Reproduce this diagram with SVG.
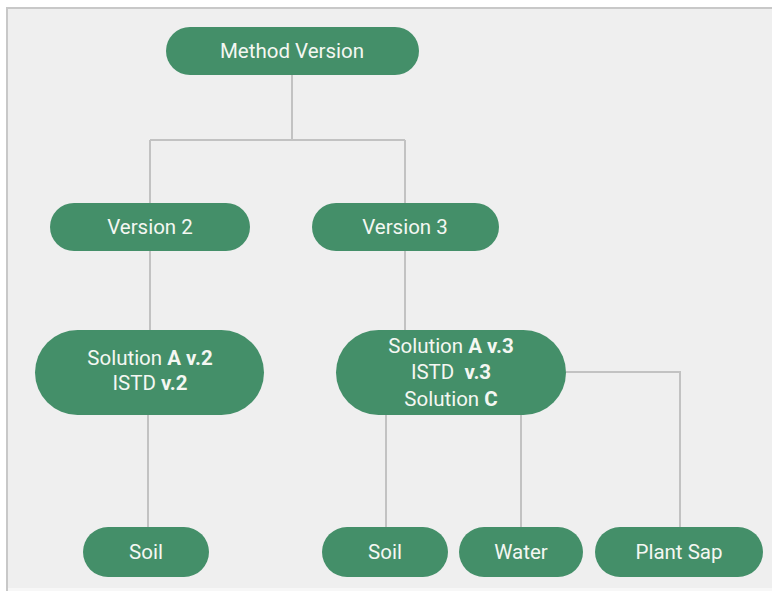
<svg xmlns="http://www.w3.org/2000/svg" width="772" height="591" viewBox="0 0 772 591">
<style>
.n{fill:#448f69}
.t{font-family:Roboto,"Liberation Sans",sans-serif;font-size:20.5px;font-weight:400;fill:#f4f7f2;text-anchor:middle}
.b{font-weight:bold}
.c{stroke:#c2c2c2;stroke-width:2;fill:none}
</style>
<rect x="0" y="0" width="772" height="591" fill="#ffffff"/>
<rect x="7" y="8" width="775" height="600" fill="#efefef" stroke="#c8c8c8" stroke-width="2"/>
<rect x="8" y="588" width="764" height="3" fill="#f7f7f7"/>
<g id="connectors">
<path class="c" d="M292 75V140M150 140H405M150 140V203M405 140V203"/>
<path class="c" d="M150 251V330M148 415V527"/>
<path class="c" d="M405 251V330M386 415V527M521 415V527M566 372H680V527"/>
</g>
<g id="method-version"><rect class="n" x="166" y="27" width="253" height="48" rx="24"/><text class="t" x="292" y="58">Method Version</text></g>
<g id="version-2"><rect class="n" x="50" y="203" width="200" height="48" rx="24"/><text class="t" x="150" y="234">Version 2</text></g>
<g id="version-3"><rect class="n" x="312" y="203" width="187" height="48" rx="24"/><text class="t" x="405" y="234">Version 3</text></g>
<g id="solution-v2"><rect class="n" x="35" y="330" width="229" height="85" rx="42.5"/><text class="t" x="150" y="365">Solution <tspan class="b">A v.2</tspan></text><text class="t" x="150" y="390">ISTD <tspan class="b">v.2</tspan></text></g>
<g id="solution-v3"><rect class="n" x="336" y="330" width="230" height="85" rx="42.5"/><text class="t" x="451" y="353">Solution <tspan class="b">A v.3</tspan></text><text class="t" x="451" y="379">ISTD&#160; <tspan class="b">v.3</tspan></text><text class="t" x="451" y="406">Solution <tspan class="b">C</tspan></text></g>
<g id="soil-1"><rect class="n" x="83" y="527" width="126" height="50" rx="25"/><text class="t" x="146" y="559">Soil</text></g>
<g id="soil-2"><rect class="n" x="322" y="527" width="126" height="50" rx="25"/><text class="t" x="385" y="559">Soil</text></g>
<g id="water"><rect class="n" x="459" y="527" width="124" height="50" rx="25"/><text class="t" x="521" y="559">Water</text></g>
<g id="plant-sap"><rect class="n" x="595" y="527" width="168" height="50" rx="25"/><text class="t" x="679" y="559">Plant Sap</text></g>
</svg>
